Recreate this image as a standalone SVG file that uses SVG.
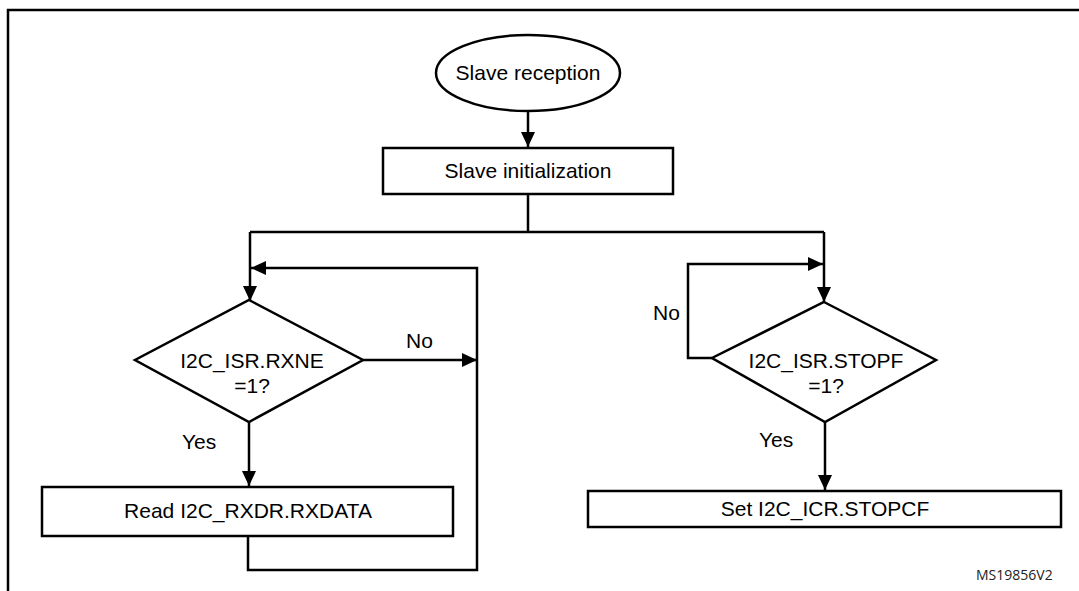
<svg xmlns="http://www.w3.org/2000/svg" width="1079" height="591" viewBox="0 0 1079 591">
<style>
.shape{fill:#fff;stroke:#000;stroke-width:2.5}
.line{fill:none;stroke:#000;stroke-width:2.5}
.t{font-family:"Liberation Sans",Arial,sans-serif;font-size:21px;fill:#000;text-anchor:middle}
.lbl{font-family:"Liberation Sans",Arial,sans-serif;font-size:21px;fill:#000}
.ref{font-family:"Open Sans","Liberation Sans",sans-serif;font-size:14px;fill:#222}
</style>
<defs>
<marker id="arr" markerUnits="userSpaceOnUse" markerWidth="16" markerHeight="14" refX="15" refY="7" orient="auto">
<path d="M0,0 L15,7 L0,14 Z" fill="#000"/>
</marker>
</defs>
<rect width="1079" height="591" fill="#fff"/>
<path class="line" d="M8,591 V10 H1079" stroke-width="2.5"/>

<g id="connectors">
<line class="line" x1="528" y1="111" x2="528" y2="147" marker-end="url(#arr)"/>
<path class="line" d="M528,194 V232"/>
<path class="line" d="M250,232 H824"/>
<line class="line" x1="250" y1="232" x2="250" y2="301" marker-end="url(#arr)"/>
<line class="line" x1="824" y1="232" x2="824" y2="302" marker-end="url(#arr)"/>
<line class="line" x1="363" y1="360" x2="477" y2="360" marker-end="url(#arr)"/>
<line class="line" x1="249" y1="422" x2="249" y2="486" marker-end="url(#arr)"/>
<path class="line" d="M248,536 V570 H477 V268 H251" marker-end="url(#arr)"/>
<line class="line" x1="825" y1="422" x2="825" y2="490" marker-end="url(#arr)"/>
<path class="line" d="M712,358 H688 V264 H823" marker-end="url(#arr)"/>
<text class="lbl" x="406" y="348">No</text>
<text class="lbl" x="653" y="320">No</text>
<text class="lbl" x="182" y="449">Yes</text>
<text class="lbl" x="759" y="447">Yes</text>
</g>

<g id="start">
<ellipse class="shape" cx="528" cy="73" rx="92" ry="38"/>
<text class="t" x="528" y="80">Slave reception</text>
</g>

<g id="init">
<rect class="shape" x="383" y="148" width="290" height="46"/>
<text class="t" x="528" y="178">Slave initialization</text>
</g>

<g id="rxne">
<polygon class="shape" points="249,300 363,360 249,422 135,360"/>
<text class="t" x="252" y="368">I2C_ISR.RXNE</text>
<text class="t" x="252" y="393">=1?</text>
</g>

<g id="read">
<rect class="shape" x="42" y="487" width="411" height="49"/>
<text class="t" x="248" y="518">Read I2C_RXDR.RXDATA</text>
</g>

<g id="stopf">
<polygon class="shape" points="824,302 936,360 825,422 712,358"/>
<text class="t" x="826" y="368">I2C_ISR.STOPF</text>
<text class="t" x="826" y="393">=1?</text>
</g>

<g id="stopcf">
<rect class="shape" x="588" y="491" width="473" height="36"/>
<text class="t" x="825" y="516">Set I2C_ICR.STOPCF</text>
</g>

<text class="ref" x="976" y="580">MS19856V2</text>
</svg>
